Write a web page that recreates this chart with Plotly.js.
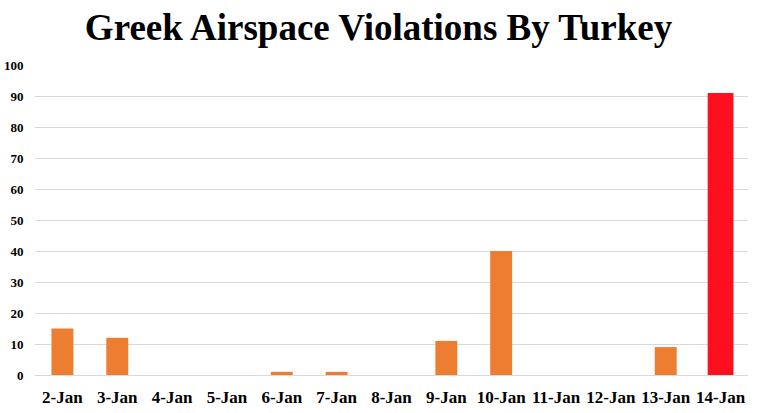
<!DOCTYPE html>
<html><head><meta charset="utf-8">
<script src="https://cdn.plot.ly/plotly-3.0.1.min.js"></script>
<style>html,body{margin:0;padding:0;background:#fff}#chart{width:757px;height:413px}</style>
</head><body><div id="chart"></div>
<script>
const categories = ["2-Jan","3-Jan","4-Jan","5-Jan","6-Jan","7-Jan","8-Jan","9-Jan","10-Jan","11-Jan","12-Jan","13-Jan","14-Jan"];
const violations = [15,12,0,0,1,1,0,11,40,0,0,9,91];
const yTicks = [0,10,20,30,40,50,60,70,80,90,100];
const highlightIndex = 12;

const colors = categories.map((c,i)=> i===highlightIndex ? "#fc0f1e" : "#ed7d31");
const widths = categories.map((c,i)=> i===highlightIndex ? 0.47 : 0.4);

const serif = "Liberation Serif, Times New Roman, serif";
Plotly.newPlot("chart", [{
  type: "bar", x: categories, y: violations,
  marker: {color: colors}, width: widths, hoverinfo: "x+y"
}], {
  width: 757, height: 413,
  margin: {l: 35, r: 9, t: 65, b: 38},
  paper_bgcolor: "#fff", plot_bgcolor: "#fff",
  title: {text: "<b>Greek Airspace Violations By Turkey</b>", x: 0.5, xanchor: "center", y: 0.965, yanchor: "top",
          font: {family: serif, size: 37, color: "#000"}},
  xaxis: {type: "category", tickfont: {family: serif, size: 17, color: "#000", weight: "bold"},
          showgrid: false, zeroline: false, showline: false, ticks: "", ticklabelstandoff: 10, automargin: false},
  yaxis: {range: [0, 100], tickvals: yTicks, ticktext: yTicks.map(String),
          tickfont: {family: serif, size: 13, color: "#000", weight: "bold"},
          showgrid: true, gridcolor: "#d9d9d9", gridwidth: 1, zeroline: true, zerolinecolor: "#d9d9d9",
          showline: false, ticks: "outside", ticklen: 8, tickcolor: "rgba(0,0,0,0)", automargin: false},
  showlegend: false
}, {displayModeBar: false, staticPlot: true});
</script></body></html>
